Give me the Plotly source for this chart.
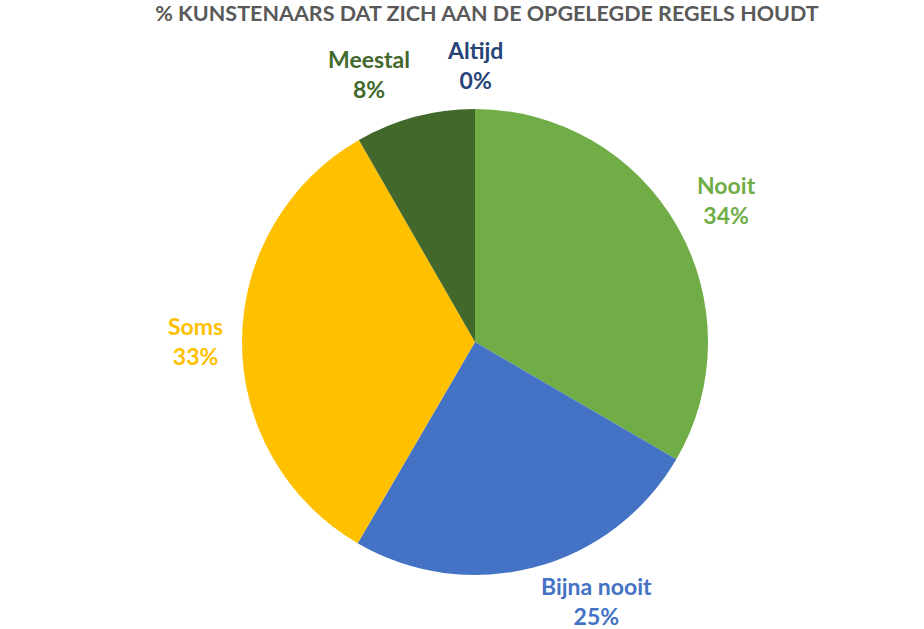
import math
import plotly.graph_objects as go

# ---- data ----
categories = ["Nooit", "Bijna nooit", "Soms", "Meestal", "Altijd"]
values = [33.4, 25.0, 33.3, 8.3, 0.0]          # slice shares
pct_labels = ["34%", "25%", "33%", "8%", "0%"]  # percentages as printed on the chart
title_text = "% KUNSTENAARS DAT ZICH AAN DE OPGELEGDE REGELS HOUDT"

# ---- style / layout ----
colors = ["#70AD47", "#4472C4", "#FFC000", "#43682B", "#264478"]
W, H = 924, 629
CX, CY, R = 475, 342, 233
LABEL_R = 1.075
FONT = "Lato"
# small pixel nudges (dx, dy; +dy = down) mimicking the original label placement
LABEL_NUDGE = {"Nooit": (3, 14), "Bijna nooit": (0, -14), "Soms": (0, 0),
               "Meestal": (2, 5), "Altijd": (0, 4)}

fig = go.Figure()
fig.add_trace(go.Pie(
    labels=categories,
    values=values,
    sort=False,
    direction="clockwise",
    rotation=0,
    marker=dict(colors=colors, line=dict(width=0)),
    textinfo="none",
    hoverinfo="label+percent",
    showlegend=False,
    domain=dict(x=[(CX - R) / W, (CX + R) / W], y=[1 - (CY + R) / H, 1 - (CY - R) / H]),
))

total = sum(values)
cum = 0.0
annotations = []
for cat, v, p, col in zip(categories, values, pct_labels, colors):
    theta = 2 * math.pi * (cum + v / 2) / total
    cum += v
    s, c = math.sin(theta), math.cos(theta)
    ndx, ndy = LABEL_NUDGE[cat]
    ax = CX + R * LABEL_R * s + ndx
    ay = CY - R * LABEL_R * c + ndy
    xa = "left" if s > 0.01 else ("right" if s < -0.01 else "center")
    ya = "bottom" if c > 0.01 else ("top" if c < -0.01 else "middle")
    annotations.append(dict(
        x=ax / W, y=1 - ay / H, xref="paper", yref="paper",
        text=f"<b>{cat}</b><br><b>{p}</b>",
        showarrow=False, xanchor=xa, yanchor=ya, align="center",
        font=dict(family=FONT, size=23, color=col),
    ))

fig.update_layout(
    width=W, height=H,
    margin=dict(l=0, r=0, t=0, b=0),
    paper_bgcolor="white", plot_bgcolor="white",
    title=dict(text=f"<b>{title_text}</b>", x=487 / W, xanchor="center",
               y=1 - 13 / H, yanchor="middle", yref="container",
               font=dict(family=FONT, size=21.5, color="#595959")),
    annotations=annotations,
)

fig.write_html("out.html")
